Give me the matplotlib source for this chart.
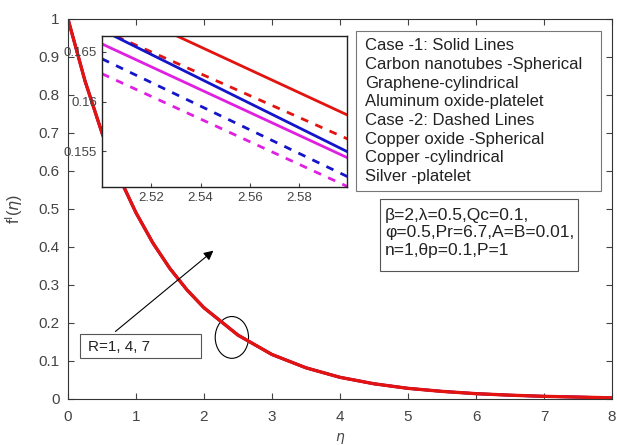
import matplotlib.pyplot as plt
from matplotlib.patches import Ellipse, Rectangle

plt.rcParams['font.family'] = ['Liberation Sans', 'DejaVu Sans']
plt.rcParams['mathtext.fontset'] = 'dejavusans'

# main curve f'(eta)
eta = [0, 0.25, 0.5, 0.75, 1, 1.25, 1.5, 1.75, 2, 2.5, 3, 3.5, 4, 4.5, 5, 5.5, 6, 6.5, 7, 7.5, 8]
f_main = [1.0, 0.837, 0.70, 0.585, 0.49, 0.41, 0.343, 0.287, 0.24, 0.168, 0.117, 0.082,
          0.057, 0.040, 0.028, 0.020, 0.014, 0.010, 0.007, 0.005, 0.003]

# zoomed region (inset)
eta_zoom = [2.50, 2.60]
red_solid = [0.1701, 0.1586]
red_dash = [0.1672, 0.1562]
blue_solid = [0.1672, 0.1549]
blue_dash = [0.1643, 0.1524]
mag_solid = [0.1658, 0.1543]
mag_dash = [0.1628, 0.1514]

legend_lines = ['Case -1: Solid Lines', 'Carbon nanotubes -Spherical', 'Graphene-cylindrical',
                'Aluminum oxide-platelet', 'Case -2: Dashed Lines', 'Copper oxide -Spherical',
                'Copper -cylindrical', 'Silver -platelet']
param_lines = ['\u03b2=2,\u03bb=0.5,Qc=0.1,', '\u03c6=0.5,Pr=6.7,A=B=0.01,', 'n=1,\u03b8p=0.1,P=1']

RED = '#e3140f'
BLUE = '#1414c8'
MAG = '#e020e0'
AX = '#333333'
TXT = '#444444'

fig = plt.figure(figsize=(6.17, 4.45), dpi=100)
ax = fig.add_axes([0.1102, 0.1034, 0.8817, 0.854])
ax.plot(eta, f_main, color=MAG, lw=2.0)
ax.plot(eta, f_main, color=BLUE, lw=2.0)
ax.plot(eta, f_main, color=RED, lw=2.4)
ax.set_xlim(0, 8)
ax.set_ylim(0, 1)
ax.set_xticks(range(0, 9))
ax.set_yticks([i / 10 for i in range(11)])
ax.set_yticklabels(['0', '0.1', '0.2', '0.3', '0.4', '0.5', '0.6', '0.7', '0.8', '0.9', '1'])
ax.tick_params(direction='in', top=True, right=True, labelsize=11, colors=TXT,
               length=4, width=0.8, pad=6)
ax.tick_params(axis='x', pad=8)
for s in ax.spines.values():
    s.set_color(AX)
    s.set_linewidth(0.8)
ax.set_xlabel(r'$\eta$', fontsize=10, color=TXT)
ax.xaxis.set_label_coords(0.5, -0.085)
ax.set_ylabel(r'f$^{\mathsf{I}}$($\eta$)', fontsize=11.5, color=TXT)
ax.yaxis.set_label_coords(-0.079, 0.5)

# ellipse and arrow
ax.add_patch(Ellipse((2.41, 0.162), 0.49, 0.11, fill=False, ec='black', lw=0.8))
ax.annotate('', xy=(2.17, 0.395), xytext=(0.666, 0.173),
            arrowprops=dict(arrowstyle='-|>', color='black', lw=0.8, mutation_scale=14))
ax.add_patch(Rectangle((0.176, 0.109), 1.774, 0.062, fill=False, ec='#555555', lw=0.8))
ax.text(0.29, 0.138, 'R=1, 4, 7', fontsize=11, va='center', color='#222222')

# legend box
ax.add_patch(Rectangle((0.529, 0.548), 0.451, 0.421, transform=ax.transAxes,
                       fc='white', ec='#777777', lw=0.8, zorder=5))
for i, t in enumerate(legend_lines):
    ax.text(0.546, 0.929 - i * 0.0491, t, transform=ax.transAxes, fontsize=12,
            va='center', color='#222222', zorder=6)

# parameter box
ax.add_patch(Rectangle((0.574, 0.337), 0.3635, 0.189, transform=ax.transAxes,
                       fc='white', ec='#555555', lw=0.8, zorder=5))
for i, t in enumerate(param_lines):
    ax.text(0.583, 0.484 - i * 0.046, t, transform=ax.transAxes, fontsize=12.5,
            va='center', color='#222222', zorder=6)

# inset
ins = fig.add_axes([0.1653, 0.5798, 0.397, 0.3393])
ins.plot(eta_zoom, red_solid, color=RED, lw=2)
ins.plot(eta_zoom, red_dash, color=RED, lw=2, dashes=(2.8, 2.8))
ins.plot(eta_zoom, blue_solid, color=BLUE, lw=2)
ins.plot(eta_zoom, blue_dash, color=BLUE, lw=2, dashes=(2.8, 2.8))
ins.plot(eta_zoom, mag_solid, color=MAG, lw=2)
ins.plot(eta_zoom, mag_dash, color=MAG, lw=2, dashes=(2.8, 2.8))
ins.set_xlim(2.50, 2.5994)
ins.set_ylim(0.1514, 0.1666)
ins.set_xticks([2.52, 2.54, 2.56, 2.58])
ins.set_xticklabels(['2.52', '2.54', '2.56', '2.58'])
ins.set_yticks([0.155, 0.16, 0.165])
ins.set_yticklabels(['0.155', '0.16', '0.165'])
ins.tick_params(direction='in', labelsize=9.5, colors=TXT, length=3, width=0.8)
for s in ins.spines.values():
    s.set_color('#222222')
    s.set_linewidth(1.0)

fig.savefig('out.png', dpi=100)
